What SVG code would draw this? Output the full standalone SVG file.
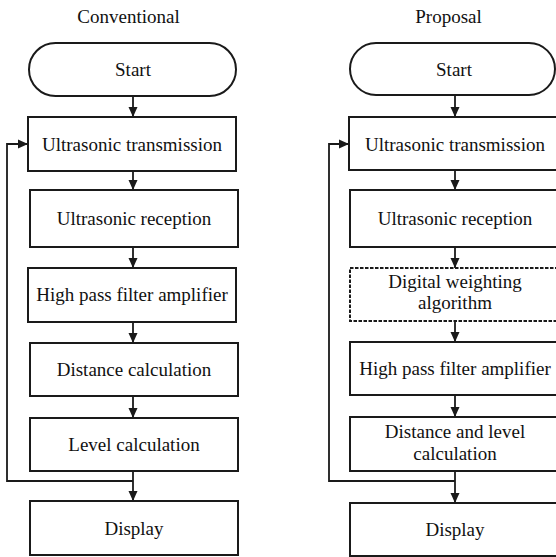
<svg xmlns="http://www.w3.org/2000/svg" width="556" height="557" viewBox="0 0 556 557">
<defs>
<marker id="ah" markerWidth="12" markerHeight="12" refX="10" refY="5" orient="auto" markerUnits="userSpaceOnUse">
<path d="M0,0.5 L10,5 L0,9.5 Z" fill="#1a1a1a"/>
</marker>
<style>
.box{fill:#fff;stroke:#1a1a1a;stroke-width:2}
.dash{fill:#fff;stroke:#1a1a1a;stroke-width:2;stroke-dasharray:3.5 1.5}
text{font-family:'Liberation Serif','DejaVu Serif',serif;font-size:19px;fill:#111;text-anchor:middle}
.c{fill:none;stroke:#1a1a1a;stroke-width:1.8;marker-end:url(#ah)}
</style>
</defs>
<rect width="556" height="557" fill="#fff"/>
<text x="128.5" y="23">Conventional</text>
<text x="448.5" y="23">Proposal</text>

<g id="connectors">
<path class="c" d="M133,96 V117"/>
<path class="c" d="M133,171 V190"/>
<path class="c" d="M133,247 V268"/>
<path class="c" d="M133,322 V343"/>
<path class="c" d="M133,396 V418"/>
<path class="c" d="M133,471 V501"/>
<path class="c" d="M133,481 H7 V144 H28"/>
<path class="c" d="M455,95 V117"/>
<path class="c" d="M455,170 V190"/>
<path class="c" d="M455,247 V268"/>
<path class="c" d="M455,321 V342"/>
<path class="c" d="M455,395 V417"/>
<path class="c" d="M455,471 V503"/>
<path class="c" d="M455,481 H329 V144 H349"/>
</g>

<g id="c-start"><rect class="box" x="29" y="43" width="207" height="53" rx="26.5"/><text x="133" y="76">Start</text></g>
<g id="c-tx"><rect class="box" x="28" y="117" width="208" height="54"/><text x="132" y="151">Ultrasonic transmission</text></g>
<g id="c-rx"><rect class="box" x="30" y="190" width="208" height="57"/><text x="134" y="225">Ultrasonic reception</text></g>
<g id="c-hpf"><rect class="box" x="28" y="268" width="208" height="54"/><text x="132" y="301">High pass filter amplifier</text></g>
<g id="c-dist"><rect class="box" x="30" y="343" width="208" height="53"/><text x="134" y="376">Distance calculation</text></g>
<g id="c-level"><rect class="box" x="30" y="418" width="208" height="53"/><text x="134" y="451">Level calculation</text></g>
<g id="c-display"><rect class="box" x="30" y="501" width="208" height="54"/><text x="134" y="535">Display</text></g>

<g id="p-start"><rect class="box" x="350" y="43" width="205" height="52" rx="26"/><text x="454" y="76">Start</text></g>
<g id="p-tx"><rect class="box" x="349" y="117" width="212" height="53"/><text x="455" y="151">Ultrasonic transmission</text></g>
<g id="p-rx"><rect class="box" x="350" y="190" width="212" height="57"/><text x="455" y="225">Ultrasonic reception</text></g>
<g id="p-dwa"><rect class="dash" x="350" y="268" width="212" height="53"/><text x="455" y="288">Digital weighting</text><text x="455" y="309">algorithm</text></g>
<g id="p-hpf"><rect class="box" x="350" y="342" width="212" height="53"/><text x="455" y="375">High pass filter amplifier</text></g>
<g id="p-dl"><rect class="box" x="350" y="417" width="212" height="54"/><text x="455" y="438">Distance and level</text><text x="455" y="460">calculation</text></g>
<g id="p-display"><rect class="box" x="350" y="503" width="212" height="53"/><text x="455" y="536">Display</text></g>
</svg>
